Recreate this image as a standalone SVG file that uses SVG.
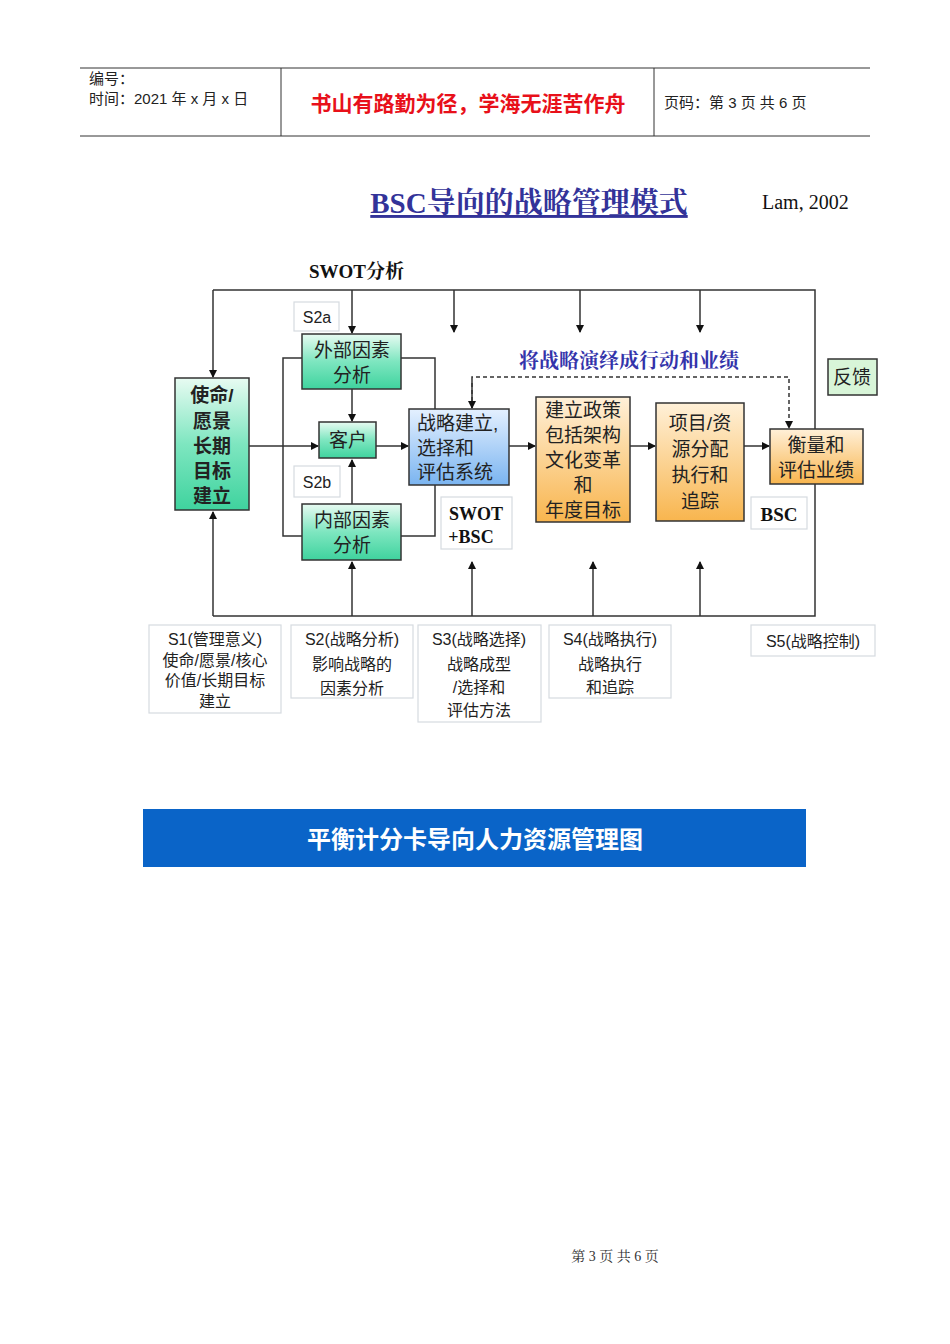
<svg xmlns="http://www.w3.org/2000/svg" width="950" height="1344" viewBox="0 0 950 1344">
<defs>
<linearGradient id="g" x1="0" y1="0" x2="0" y2="1"><stop offset="0" stop-color="#e8fbf2"/><stop offset="0.5" stop-color="#7ee6c0"/><stop offset="1" stop-color="#3fd39e"/></linearGradient>
<linearGradient id="b" x1="0" y1="0" x2="0" y2="1"><stop offset="0" stop-color="#e4f0ff"/><stop offset="1" stop-color="#7ab4f0"/></linearGradient>
<linearGradient id="o" x1="0" y1="0" x2="0" y2="1"><stop offset="0" stop-color="#fff0d8"/><stop offset="1" stop-color="#f8b54e"/></linearGradient>
<marker id="a" markerWidth="8" markerHeight="8" refX="7" refY="4" orient="auto" markerUnits="userSpaceOnUse"><path d="M0,0 L8,4 L0,8 z" fill="#111"/></marker>
</defs>
<style>
.t{font-family:"Liberation Sans","Noto Sans CJK SC",sans-serif;fill:#222}
.s{font-family:"Liberation Serif","Noto Serif CJK SC","Noto Sans CJK SC",serif;font-weight:bold;fill:#111}
.ln{stroke:#333;stroke-width:1.5;fill:none}
.box{stroke:#333;stroke-width:1.5}
.lab{fill:#fff;stroke:#d6dbe0;stroke-width:1.2}
.n{font-size:19px;text-anchor:middle}
.sm{font-size:16px;text-anchor:middle}
</style>
<rect width="950" height="1344" fill="#fff"/>
<g id="header">
<line x1="80" y1="68" x2="870" y2="68" stroke="#333"/>
<line x1="80" y1="136" x2="870" y2="136" stroke="#333"/>
<line x1="281" y1="68" x2="281" y2="136" stroke="#333"/>
<line x1="654" y1="68" x2="654" y2="136" stroke="#333"/>
<text class="t" x="89" y="84" font-size="15">编号：</text>
<text class="t" x="89" y="104" font-size="15">时间：2021 年 x 月 x 日</text>
<text class="t" x="468" y="111" font-size="21" font-weight="bold" text-anchor="middle" style="fill:#e8101a">书山有路勤为径，学海无涯苦作舟</text>
<text class="t" x="664" y="108" font-size="15">页码：第 3 页  共 6 页</text>
</g>
<text class="s" x="529" y="213" font-size="29" text-anchor="middle" style="fill:#333399" text-decoration="underline">BSC导向的战略管理模式</text>
<text class="s" x="762" y="209" font-size="20" style="font-weight:normal">Lam, 2002</text>
<text class="s" x="309" y="278" font-size="19">SWOT分析</text>
<text class="s" x="629" y="368" font-size="20" text-anchor="middle" style="fill:#3333aa">将战略演绎成行动和业绩</text>
<g id="connectors">
<polyline class="ln" points="213,290 815,290 815,616 213,616"/>
<line class="ln" x1="213" y1="290" x2="213" y2="377" marker-end="url(#a)"/>
<line class="ln" x1="213" y1="616" x2="213" y2="512" marker-end="url(#a)"/>
<line class="ln" x1="352" y1="290" x2="352" y2="333" marker-end="url(#a)"/>
<line class="ln" x1="454" y1="290" x2="454" y2="332" marker-end="url(#a)"/>
<line class="ln" x1="580" y1="290" x2="580" y2="332" marker-end="url(#a)"/>
<line class="ln" x1="700" y1="290" x2="700" y2="332" marker-end="url(#a)"/>
<line class="ln" x1="352" y1="616" x2="352" y2="562" marker-end="url(#a)"/>
<line class="ln" x1="472" y1="616" x2="472" y2="562" marker-end="url(#a)"/>
<line class="ln" x1="593" y1="616" x2="593" y2="562" marker-end="url(#a)"/>
<line class="ln" x1="700" y1="616" x2="700" y2="562" marker-end="url(#a)"/>
<line class="ln" x1="249" y1="446" x2="318" y2="446" marker-end="url(#a)"/>
<line class="ln" x1="352" y1="389" x2="352" y2="421" marker-end="url(#a)"/>
<line class="ln" x1="352" y1="504" x2="352" y2="460" marker-end="url(#a)"/>
<line class="ln" x1="376" y1="446" x2="408" y2="446" marker-end="url(#a)"/>
<polyline class="ln" points="302,358 283,358 283,536 302,536"/>
<polyline class="ln" points="401,358 435,358 435,409"/>
<polyline class="ln" points="401,536 435,536 435,485"/>
<line class="ln" x1="509" y1="446" x2="535" y2="446" marker-end="url(#a)"/>
<line class="ln" x1="630" y1="446" x2="655" y2="446" marker-end="url(#a)"/>
<line class="ln" x1="744" y1="446" x2="769" y2="446" marker-end="url(#a)"/>
<polyline class="ln" points="472,408 472,377 789,377 789,428" stroke-dasharray="4,3" marker-end="url(#a)"/>
<line class="ln" x1="472" y1="380" x2="472" y2="408" marker-end="url(#a)"/>
</g>
<g id="n1"><rect class="box" x="175" y="378" width="74" height="132" fill="url(#g)"/>
<text class="t n" x="212" y="402" font-weight="bold">使命/</text><text class="t n" x="212" y="428" font-weight="bold">愿景</text><text class="t n" x="212" y="453" font-weight="bold">长期</text><text class="t n" x="212" y="478" font-weight="bold">目标</text><text class="t n" x="212" y="503" font-weight="bold">建立</text></g>
<g id="n2"><rect class="box" x="302" y="334" width="99" height="55" fill="url(#g)"/><text class="t n" x="352" y="357">外部因素</text><text class="t n" x="352" y="382">分析</text></g>
<g id="n3"><rect class="box" x="319" y="422" width="57" height="36" fill="url(#g)"/><text class="t n" x="348" y="447">客户</text></g>
<g id="n4"><rect class="box" x="302" y="504" width="99" height="56" fill="url(#g)"/><text class="t n" x="352" y="527">内部因素</text><text class="t n" x="352" y="552">分析</text></g>
<g id="n5"><rect class="box" x="409" y="409" width="100" height="76" fill="url(#b)"/><text class="t" x="417" y="430" font-size="19">战略建立,</text><text class="t" x="417" y="455" font-size="19">选择和</text><text class="t" x="417" y="479" font-size="19">评估系统</text></g>
<g id="n6"><rect class="box" x="536" y="397" width="94" height="125" fill="url(#o)"/><text class="t n" x="583" y="417">建立政策</text><text class="t n" x="583" y="442">包括架构</text><text class="t n" x="583" y="467">文化变革</text><text class="t n" x="583" y="492">和</text><text class="t n" x="583" y="517">年度目标</text></g>
<g id="n7"><rect class="box" x="656" y="403" width="88" height="118" fill="url(#o)"/><text class="t n" x="700" y="430">项目/资</text><text class="t n" x="700" y="456">源分配</text><text class="t n" x="700" y="482">执行和</text><text class="t n" x="700" y="508">追踪</text></g>
<g id="n8"><rect class="box" x="770" y="429" width="93" height="55" fill="url(#o)"/><text class="t n" x="816" y="452">衡量和</text><text class="t n" x="816" y="477">评估业绩</text></g>
<g id="n9"><rect class="box" x="828" y="359" width="49" height="36" fill="#d8f5d8"/><text class="t n" x="852" y="384">反馈</text></g>
<g id="l1"><rect class="lab" x="294" y="302" width="45" height="29"/><text class="t sm" x="317" y="323">S2a</text></g>
<g id="l2"><rect class="lab" x="294" y="466" width="46" height="31"/><text class="t sm" x="317" y="488">S2b</text></g>
<g id="l3"><rect class="lab" x="441" y="497" width="71" height="52"/><text class="s" x="476" y="520" font-size="18" text-anchor="middle">SWOT</text><text class="s" x="471" y="543" font-size="18" text-anchor="middle">+BSC</text></g>
<g id="l4"><rect class="lab" x="751" y="497" width="56" height="32"/><text class="s" x="779" y="521" font-size="19" text-anchor="middle">BSC</text></g>
<g id="s1"><rect class="lab" x="149" y="625" width="132" height="88"/><text class="t sm" x="215" y="645">S1(管理意义)</text><text class="t sm" x="215" y="666">使命/愿景/核心</text><text class="t sm" x="215" y="686">价值/长期目标</text><text class="t sm" x="215" y="707">建立</text></g>
<g id="s2"><rect class="lab" x="291" y="625" width="122" height="73"/><text class="t sm" x="352" y="645" font-size="18">S2(战略分析)</text><text class="t sm" x="352" y="670" font-size="18">影响战略的</text><text class="t sm" x="352" y="694" font-size="18">因素分析</text></g>
<g id="s3"><rect class="lab" x="418" y="625" width="123" height="97"/><text class="t sm" x="479" y="645" font-size="18">S3(战略选择)</text><text class="t sm" x="479" y="670" font-size="18">战略成型</text><text class="t sm" x="479" y="693" font-size="18">/选择和</text><text class="t sm" x="479" y="716" font-size="18">评估方法</text></g>
<g id="s4"><rect class="lab" x="549" y="625" width="122" height="73"/><text class="t sm" x="610" y="645" font-size="18">S4(战略执行)</text><text class="t sm" x="610" y="670" font-size="18">战略执行</text><text class="t sm" x="610" y="693" font-size="18">和追踪</text></g>
<g id="s5"><rect class="lab" x="751" y="625" width="124" height="31"/><text class="t sm" x="813" y="647" font-size="18">S5(战略控制)</text></g>
<g id="banner"><rect x="143" y="809" width="663" height="58" fill="#0a64c8"/><text class="t" x="475" y="848" font-size="24" font-weight="bold" text-anchor="middle" style="fill:#fff">平衡计分卡导向人力资源管理图</text></g>
<text class="s" x="615" y="1261" font-size="14" text-anchor="middle" style="font-weight:normal;fill:#333">第 3 页 共 6 页</text>
</svg>
